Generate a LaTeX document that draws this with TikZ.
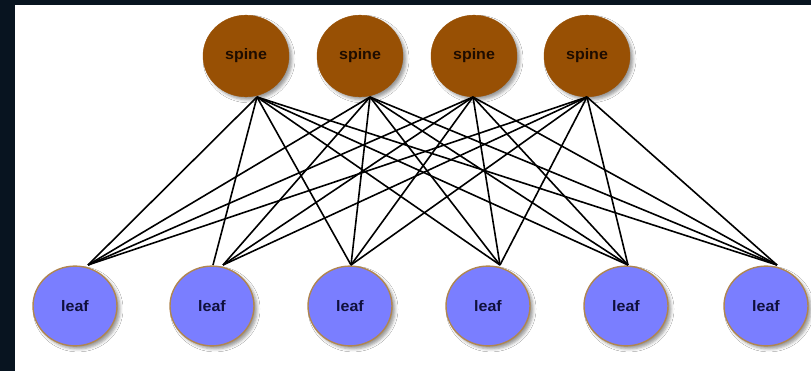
\documentclass[tikz,border=0pt]{standalone}
\usepackage{fontspec}
\setmainfont{Liberation Sans}
\usetikzlibrary{shadows.blur}
\definecolor{bgdark}{RGB}{8,20,32}
\definecolor{spinefill}{RGB}{152,80,4}
\definecolor{spinetext}{RGB}{30,12,0}
\definecolor{leaffill}{RGB}{122,126,255}
\definecolor{leafedge}{RGB}{176,134,80}
\definecolor{leaftext}{RGB}{16,16,60}
\tikzset{
  spinenode/.style={circle, draw=spinefill, fill=spinefill, minimum width=86pt, inner sep=0pt,
    text=spinetext, font=\fontsize{16}{16}\selectfont\bfseries,
    blur shadow={shadow xshift=3pt, shadow yshift=-3pt, shadow blur radius=3pt, shadow opacity=40}},
  leafnode/.style={circle, draw=leafedge, line width=1.4pt, fill=leaffill, minimum width=84pt, inner sep=0pt,
    text=leaftext, font=\fontsize{16}{16}\selectfont\bfseries,
    blur shadow={shadow xshift=3pt, shadow yshift=-3pt, shadow blur radius=3pt, shadow opacity=40}},
  link/.style={black, line width=1.6pt}
}
\begin{document}
\begin{tikzpicture}[x=1pt,y=-1pt]
\fill[bgdark] (0,0) rectangle (811,371);
\fill[white] (15,5) rectangle (811,371);
\useasboundingbox (0,0) rectangle (811,371);
% spines
\node[spinenode, yscale=0.95] (s1) at (246,56) {spine};
\node[spinenode, yscale=0.95] (s2) at (360,56) {spine};
\node[spinenode, yscale=0.95] (s3) at (474,56) {spine};
\node[spinenode, yscale=0.95] (s4) at (587,56) {spine};
% leaves
\node[leafnode, yscale=0.95] (l1) at (75,306) {leaf};
\node[leafnode, yscale=0.95] (l2) at (212,306) {leaf};
\node[leafnode, yscale=0.95] (l3) at (350,306) {leaf};
\node[leafnode, yscale=0.95] (l4) at (488,306) {leaf};
\node[leafnode, yscale=0.95] (l5) at (626,306) {leaf};
\node[leafnode, yscale=0.95] (l6) at (766,306) {leaf};
% connection points
\coordinate (p1) at (257,97);
\coordinate (p2) at (370,97);
\coordinate (p3) at (473,97);
\coordinate (p4) at (587,97);
\coordinate (q1) at (88,265);
\coordinate (q2) at (223,265);
\coordinate (q2a) at (213,265);
\coordinate (q3) at (351,265);
\coordinate (q4) at (500,265);
\coordinate (q5) at (628,265);
\coordinate (q6) at (777,265);
% links
\draw[link] (p1) -- (q1);
\draw[link] (p1) -- (q2a);
\foreach \s in {2,3,4} { \draw[link] (p\s) -- (q1); \draw[link] (p\s) -- (q2); }
\foreach \s in {1,2,3,4} { \foreach \l in {3,4,5,6} { \draw[link] (p\s) -- (q\l); } }
\end{tikzpicture}
\end{document}
